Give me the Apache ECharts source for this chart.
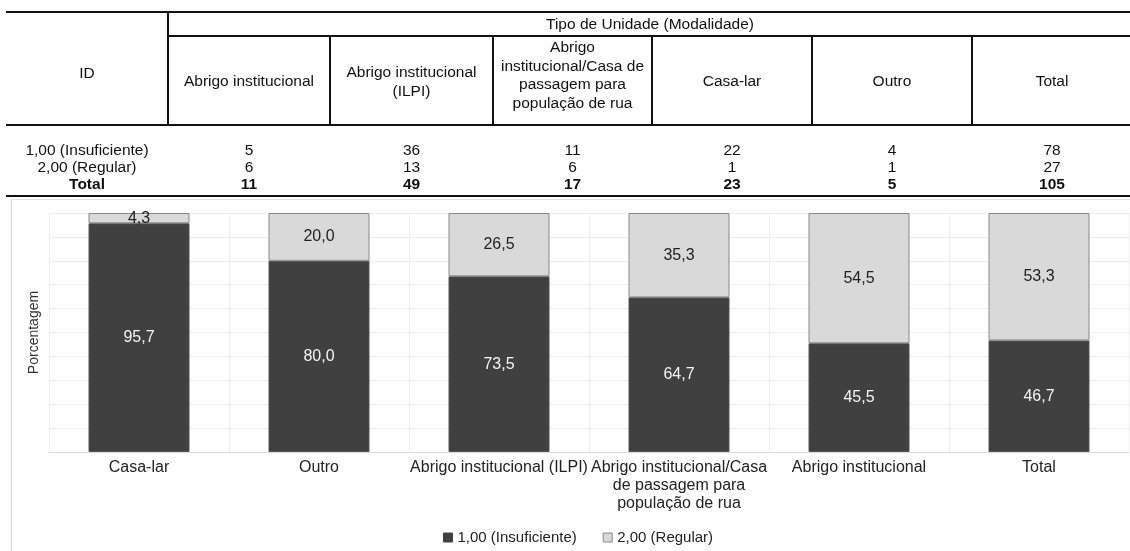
<!DOCTYPE html>
<html>
<head>
<meta charset="utf-8">
<script src="https://cdn.jsdelivr.net/npm/echarts@6/dist/echarts.min.js"></script>
<style>
  html, body { margin: 0; padding: 0; background: #fff; }
  #wrap { position: relative; width: 1130px; height: 551px; overflow: hidden; font-family: "Liberation Sans", Arial, sans-serif; }
  #frame { position: absolute; left: 11px; top: 199px; width: 1140px; height: 400px; border-left: 1px solid #d6d6d6; border-top: 1px solid #e4e4e4; box-sizing: border-box; }
  #chart { position: absolute; left: 0; top: 0; width: 1130px; height: 551px; }
  .hl { position: absolute; height: 2px; background: #111; }
  .vl { position: absolute; width: 2px; background: #111; }
  .cell { position: absolute; display: flex; align-items: center; justify-content: center; text-align: center; font-size: 15.5px; line-height: 18px; color: #111; white-space: pre; }
  .bold { font-weight: bold; }
</style>
</head>
<body>
<div id="wrap">
  <div id="frame"></div>
  <div id="chart"></div>
  <div id="table"></div>
</div>
<script>
// ---- Table data ----
const tableTitle = "Tipo de Unidade (Modalidade)";
const idHeader = "ID";
const tableColumns = ["Abrigo institucional", "Abrigo institucional\n(ILPI)", "Abrigo\ninstitucional/Casa de\npassagem para\npopulação de rua", "Casa-lar", "Outro", "Total"];
const rowLabels = ["1,00 (Insuficiente)", "2,00 (Regular)", "Total"];
const countsInsuficiente = [5, 36, 11, 22, 4, 78];
const countsRegular = [6, 13, 6, 1, 1, 27];
const countsTotal = [11, 49, 17, 23, 5, 105];

// ---- Chart data ----
const categories = ["Casa-lar", "Outro", "Abrigo institucional (ILPI)", "Abrigo institucional/Casa\nde passagem para\npopulação de rua", "Abrigo institucional", "Total"];
const seriesNames = ["1,00 (Insuficiente)", "2,00 (Regular)"];
const pctInsuficiente = [95.7, 80.0, 73.5, 64.7, 45.5, 46.7];
const pctRegular = [4.3, 20.0, 26.5, 35.3, 54.5, 53.3];
const yAxisName = "Porcentagem";

// ---- Table layout ----
const colEdges = [6, 168, 330, 493, 652, 812, 972, 1132];
const tbl = document.getElementById('table');
function add(cls, style, text) {
  const d = document.createElement('div');
  d.className = cls;
  Object.assign(d.style, style);
  if (text !== undefined) d.textContent = text;
  tbl.appendChild(d);
  return d;
}
const L = colEdges[0], R = colEdges[colEdges.length - 1];
add('hl', {left: L + 'px', top: '11px', width: (R - L) + 'px'});
add('hl', {left: colEdges[1] + 'px', top: '35px', width: (R - colEdges[1]) + 'px'});
add('hl', {left: L + 'px', top: '124px', width: (R - L) + 'px'});
add('hl', {left: L + 'px', top: '195px', width: (R - L) + 'px'});
add('vl', {left: (colEdges[1] - 1) + 'px', top: '12px', height: '113px'});
for (let i = 2; i < colEdges.length - 1; i++) {
  add('vl', {left: (colEdges[i] - 1) + 'px', top: '36px', height: '89px'});
}
add('cell', {left: colEdges[1] + 'px', top: '13px', width: (R - colEdges[1]) + 'px', height: '22px'}, tableTitle);
add('cell', {left: L + 'px', top: '17px', width: (colEdges[1] - L) + 'px', height: '111px'}, idHeader);
tableColumns.forEach((c, i) => {
  const tall = c.split('\n').length > 3;
  add('cell', {left: colEdges[i + 1] + 'px', top: (tall ? 37 : 38) + 'px', width: (colEdges[i + 2] - colEdges[i + 1]) + 'px', height: (tall ? 76 : 87) + 'px', lineHeight: '18.5px'}, c);
});
const rowsData = [countsInsuficiente, countsRegular, countsTotal];
const rowTops = [141, 158, 175];
rowsData.forEach((vals, r) => {
  const cls = r === 2 ? 'cell bold' : 'cell';
  add(cls, {left: L + 'px', top: rowTops[r] + 'px', width: (colEdges[1] - L) + 'px', height: '18px'}, rowLabels[r]);
  vals.forEach((v, i) => {
    add(cls, {left: colEdges[i + 1] + 'px', top: rowTops[r] + 'px', width: (colEdges[i + 2] - colEdges[i + 1]) + 'px', height: '18px'}, String(v));
  });
});

// ---- Chart ----
const chart = echarts.init(document.getElementById('chart'), null, {renderer: 'canvas'});
const fmt = p => p.value.toFixed(1).replace('.', ',');
chart.setOption({
  animation: false,
  textStyle: {fontFamily: '"Liberation Sans", Arial, sans-serif'},
  grid: {left: 49, right: 1, top: 213, bottom: 99, containLabel: false},
  legend: {
    bottom: 1, left: 438, itemWidth: 9, itemHeight: 9, itemGap: 26,
    textStyle: {fontSize: 15, color: '#222'},
    data: [
      {name: seriesNames[0], icon: 'rect', itemStyle: {color: '#404040', borderColor: '#404040', borderWidth: 1}},
      {name: seriesNames[1], icon: 'rect', itemStyle: {color: '#d9d9d9', borderColor: '#888', borderWidth: 1}}
    ]
  },
  xAxis: {
    type: 'category', data: categories,
    axisTick: {show: false},
    axisLine: {lineStyle: {color: '#d9d9d9'}},
    splitLine: {show: true, lineStyle: {color: '#efefef'}},
    axisLabel: {interval: 0, fontSize: 16, color: '#222', margin: 7, lineHeight: 18}
  },
  yAxis: {
    type: 'value', min: 0, max: 100, interval: 10,
    axisLabel: {show: false}, axisLine: {show: false}, axisTick: {show: false},
    splitLine: {lineStyle: {color: '#ececec'}},
    name: yAxisName, nameLocation: 'middle', nameGap: 8, nameRotate: 90,
    nameTextStyle: {fontSize: 14, color: '#333'}
  },
  series: [
    {name: seriesNames[0], type: 'bar', stack: 'a', data: pctInsuficiente, barWidth: 101,
     itemStyle: {color: '#404040', borderColor: '#555', borderWidth: 1},
     label: {show: true, position: 'inside', formatter: fmt, color: '#f4f4f4', fontSize: 16}},
    {name: seriesNames[1], type: 'bar', stack: 'a', data: pctRegular, barWidth: 101,
     itemStyle: {color: '#d9d9d9', borderColor: '#888', borderWidth: 1},
     label: {show: true, position: 'inside', formatter: fmt, color: '#222', fontSize: 16}}
  ]
});
</script>
</body>
</html>
